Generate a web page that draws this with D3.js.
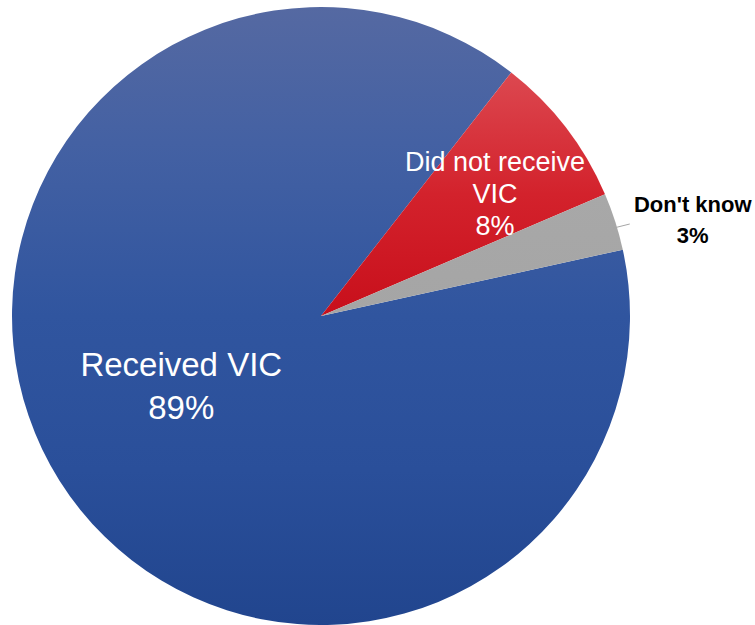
<!DOCTYPE html>
<html>
<head>
<meta charset="utf-8">
<script src="https://cdn.jsdelivr.net/npm/d3@7"></script>
<style>
  html, body { margin: 0; padding: 0; background: #fff; }
  svg { display: block; }
  text { font-family: "Liberation Sans", Arial, sans-serif; }
</style>
</head>
<body>
<svg id="chart" width="755" height="625"></svg>
<script>
// Survey responses: share of respondents who received VIC
const categories = ["Received VIC", "Did not receive VIC", "Don't know"];
const values = [89, 8, 3];
const labelLines = [["Received VIC", "89%"], ["Did not receive", "VIC", "8%"], ["Don't know", "3%"]];

const W = 755, H = 625;
const cx = 321, cy = 316, R = 309;

const svg = d3.select("#chart");
const defs = svg.append("defs");

// vertical shading, stretched over each slice's own box
const grads = [
  { id: "gBlue", stops: [[0, "#5569a2"], [0.22, "#4461a3"], [0.5, "#30559f"], [0.75, "#2a4f9a"], [1, "#21458e"]] },
  { id: "gRed", stops: [[0, "#dc4850"], [0.5, "#d3222c"], [1, "#c80f1b"]] },
  { id: "gGray", stops: [[0, "#a8a8a8"], [1, "#a5a5a5"]] }
];
grads.forEach(g => {
  const lg = defs.append("linearGradient")
    .attr("id", g.id)
    .attr("x1", 0).attr("y1", 0).attr("x2", 0).attr("y2", 1);
  g.stops.forEach(([o, c]) => lg.append("stop").attr("offset", o).attr("stop-color", c));
});
const fills = ["url(#gBlue)", "url(#gRed)", "url(#gGray)"];
const textColors = ["#ffffff", "#ffffff", "#000000"];

const startDeg = 77.6;
const pie = d3.pie().sort(null).value(d => d)
  .startAngle(startDeg * Math.PI / 180)
  .endAngle((startDeg + 360) * Math.PI / 180);
const arcs = pie(values);

const arc = d3.arc().innerRadius(0).outerRadius(R);

const g = svg.append("g").attr("transform", `translate(${cx},${cy})`);

g.selectAll("path.slice")
  .data(arcs)
  .join("path")
  .attr("class", "slice")
  .attr("d", arc)
  .attr("fill", (d, i) => fills[i]);

// label anchor radii (fraction of R), nudges and styling per slice
const labelR = [0.5, 0.67, 1.25];
const nudge = [[-9, -12], [10, 3.5], [4, 22]];
const fontSize = [33, 27, 22];
const lineGap = [43, 32, 31];
const weights = ["normal", "normal", "bold"];

function midPoint(d, rr) {
  const a = (d.startAngle + d.endAngle) / 2;
  return [Math.sin(a) * rr, -Math.cos(a) * rr];
}

arcs.forEach((d, i) => {
  const [mx, my] = midPoint(d, R * labelR[i]);
  const x = mx + nudge[i][0], y = my + nudge[i][1];
  const lines = labelLines[i];
  const total = (lines.length - 1) * lineGap[i];
  const t = g.append("text")
    .attr("text-anchor", "middle")
    .attr("fill", textColors[i])
    .attr("font-size", fontSize[i])
    .attr("font-weight", weights[i]);
  lines.forEach((ln, k) => {
    t.append("tspan")
      .attr("x", x)
      .attr("y", y - total / 2 + k * lineGap[i] + fontSize[i] * 0.35)
      .text(ln);
  });
});

// leader line for the small outside slice
const p0 = midPoint(arcs[2], R * 0.995);
g.append("line")
  .attr("x1", p0[0]).attr("y1", p0[1] + 6)
  .attr("x2", p0[0] + 16).attr("y2", p0[1] + 2)
  .attr("stroke", "#a6a6a6").attr("stroke-width", 1);
</script>
</body>
</html>
